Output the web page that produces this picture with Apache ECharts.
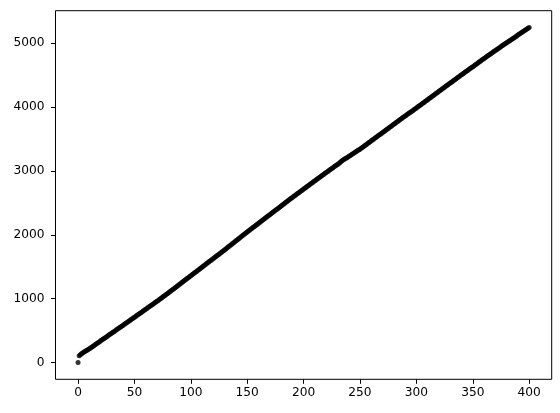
<!DOCTYPE html>
<html>
<head>
<meta charset="utf-8">
<script src="https://cdn.jsdelivr.net/npm/echarts@6/dist/echarts.min.js"></script>
<style>
html,body{margin:0;padding:0;background:#fff;}
#chart{width:560px;height:413px;}
</style>
</head>
<body>
<div id="chart"></div>
<script>
// y values, one per x step (x = 0..400)
const yValues = [
0,105,122,138,150,161,172,183,193,204,
215,228,240,251,264,277,289,302,315,327,
340,352,364,377,389,401,413,426,438,450,
462,475,487,499,512,524,536,549,561,573,
585,598,610,623,635,648,660,672,685,697,
710,722,735,747,760,772,785,797,810,822,
835,847,860,872,885,897,910,922,935,947,
960,973,986,999,1012,1025,1038,1051,1064,1077,
1090,1103,1117,1130,1144,1157,1171,1184,1198,1211,
1225,1238,1252,1265,1279,1292,1306,1319,1333,1346,
1360,1373,1387,1400,1414,1427,1441,1454,1468,1481,
1495,1508,1522,1535,1549,1562,1576,1589,1603,1616,
1630,1643,1657,1670,1684,1697,1711,1724,1738,1751,
1765,1779,1793,1807,1821,1835,1849,1863,1877,1891,
1905,1919,1933,1947,1961,1975,1989,2003,2017,2031,
2045,2058,2072,2085,2099,2112,2126,2139,2153,2166,
2180,2193,2207,2220,2234,2247,2261,2274,2288,2301,
2315,2328,2342,2355,2369,2382,2396,2409,2423,2436,
2450,2463,2477,2490,2504,2517,2531,2544,2558,2571,
2585,2598,2611,2624,2637,2650,2663,2676,2689,2702,
2715,2728,2741,2754,2767,2780,2793,2806,2819,2832,
2845,2858,2871,2884,2897,2910,2923,2936,2949,2962,
2975,2988,3000,3013,3025,3038,3050,3063,3075,3088,
3100,3113,3126,3141,3157,3170,3181,3192,3203,3214,
3225,3236,3247,3259,3271,3283,3295,3307,3318,3329,
3340,3353,3366,3379,3392,3405,3418,3431,3444,3457,
3470,3483,3496,3509,3522,3535,3548,3561,3574,3587,
3600,3613,3626,3639,3652,3665,3678,3691,3704,3717,
3730,3743,3756,3769,3782,3795,3808,3821,3834,3847,
3860,3872,3885,3897,3910,3922,3935,3947,3960,3972,
3985,3998,4011,4024,4037,4050,4063,4076,4089,4102,
4115,4128,4141,4154,4167,4180,4193,4206,4219,4232,
4245,4258,4271,4284,4297,4310,4323,4336,4349,4362,
4375,4388,4401,4414,4427,4440,4453,4466,4479,4492,
4505,4518,4530,4543,4555,4568,4580,4593,4605,4618,
4630,4643,4656,4669,4682,4695,4708,4721,4734,4747,
4760,4772,4785,4797,4810,4822,4835,4847,4860,4872,
4885,4897,4909,4921,4933,4945,4957,4969,4981,4993,
5005,5017,5029,5041,5053,5065,5077,5089,5101,5113,
5125,5137,5149,5161,5173,5185,5197,5209,5221,5233,
5245
];
const xTicks = [0, 50, 100, 150, 200, 250, 300, 350, 400];
const yTicks = [0, 1000, 2000, 3000, 4000, 5000];

const points = yValues.map((v, i) => [i, v]);
const xMin = -20, xMax = 420;
const yMax0 = Math.max(...yValues);
const yPad = yMax0 * 0.05;

const chart = echarts.init(document.getElementById('chart'), null, {renderer: 'canvas'});
const labelFont = {color: '#000', fontFamily: 'DejaVu Sans', fontSize: 12.2};
chart.setOption({
  animation: false,
  backgroundColor: '#fff',
  grid: {left: 55.5, right: 8.3, top: 10.7, bottom: 33.7, show: true, borderColor: '#000', borderWidth: 1, containLabel: false},
  xAxis: {
    type: 'value', min: xMin, max: xMax, position: 'bottom',
    splitLine: {show: false},
    axisLine: {show: false, onZero: false},
    axisTick: {show: true, inside: false, length: 4.5, lineStyle: {color: '#000', width: 1}, customValues: xTicks},
    axisLabel: Object.assign({margin: 8, customValues: xTicks, formatter: v => String(v)}, labelFont)
  },
  yAxis: {
    type: 'value', min: -yPad, max: yMax0 + yPad, position: 'left',
    splitLine: {show: false},
    axisLine: {show: false, onZero: false},
    axisTick: {show: true, inside: false, length: 4.5, lineStyle: {color: '#000', width: 1}, customValues: yTicks},
    axisLabel: Object.assign({margin: 11, customValues: yTicks, formatter: v => String(v)}, labelFont)
  },
  series: [{
    type: 'scatter',
    data: points,
    symbol: 'circle',
    symbolSize: 5,
    itemStyle: {color: '#000'},
    silent: true
  }]
});
</script>
</body>
</html>
